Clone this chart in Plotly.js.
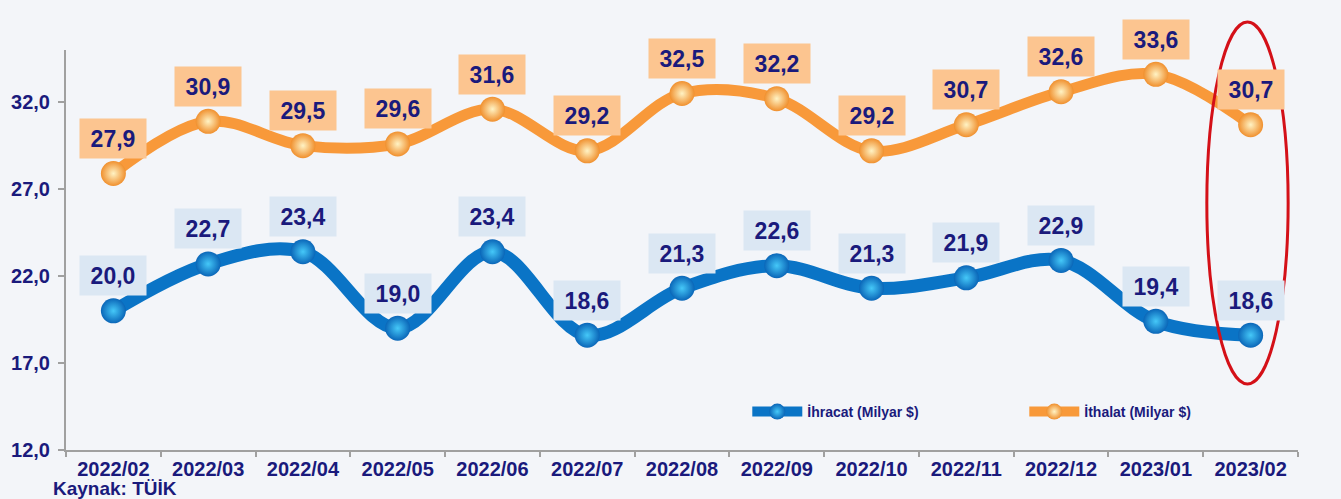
<!DOCTYPE html>
<html>
<head>
<meta charset="utf-8">
<script src="https://cdn.plot.ly/plotly-3.0.1.min.js"></script>
<style>
  html, body { margin: 0; padding: 0; background: #f3f5f9; }
  #chart { width: 1341px; height: 499px; }
</style>
</head>
<body>
<div id="chart"></div>
<script>
const months = ['2022/02','2022/03','2022/04','2022/05','2022/06','2022/07','2022/08','2022/09','2022/10','2022/11','2022/12','2023/01','2023/02'];
const exportsVals = [20.0, 22.7, 23.4, 19.0, 23.4, 18.6, 21.3, 22.6, 21.3, 21.9, 22.9, 19.4, 18.6];
const importsVals = [27.9, 30.9, 29.5, 29.6, 31.6, 29.2, 32.5, 32.2, 29.2, 30.7, 32.6, 33.6, 30.7];
const yTicks = [12, 17, 22, 27, 32];
const exportsName = 'İhracat (Milyar $)';
const importsName = 'İthalat (Milyar $)';
const sourceText = 'Kaynak: TÜİK';

const navy = '#1a1a7c';
const FONT = 'Liberation Sans, Arial, sans-serif';

const traces = [
  {
    type: 'scatter', mode: 'lines+markers', name: exportsName,
    x: months, y: exportsVals,
    line: { color: '#0a74c6', width: 13, shape: 'spline', smoothing: 1 },
    marker: { size: 25, color: '#0a66b8', line: { width: 0 },
              gradient: { type: 'radial', color: '#45c8f8' } }
  },
  {
    type: 'scatter', mode: 'lines+markers', name: importsName,
    x: months, y: importsVals,
    line: { color: '#f8993a', width: 11, shape: 'spline', smoothing: 1 },
    marker: { size: 25, color: '#f0902e', line: { width: 0 },
              gradient: { type: 'radial', color: '#fff3c4' } }
  }
];

const fmt = v => v.toFixed(1).replace('.', ',');
const annotations = [];
function addLabels(vals, bg) {
  vals.forEach((v, i) => {
    annotations.push({
      x: months[i], y: v, xref: 'x', yref: 'y', showarrow: false,
      text: fmt(v), xanchor: 'center', yanchor: 'middle', yshift: 35,
      width: 64, height: 37, bgcolor: bg,
      font: { family: FONT, size: 23, color: navy, weight: 'bold' }
    });
  });
}
addLabels(exportsVals, '#dbe7f3');
addLabels(importsVals, '#fcc590');

annotations.push({
  xref: 'paper', yref: 'paper', x: -0.012, y: -0.097, xanchor: 'left', yanchor: 'middle',
  showarrow: false, text: sourceText,
  font: { family: FONT, size: 19, color: navy, weight: 'bold' }
});

const layout = {
  width: 1341, height: 499,
  paper_bgcolor: '#f3f5f9', plot_bgcolor: 'rgba(0,0,0,0)',
  margin: { l: 66, r: 43, t: 50, b: 49, autoexpand: false },
  separators: ',.',
  showlegend: true,
  legend: {
    orientation: 'h', x: 0.553, y: 0.095, xanchor: 'left', yanchor: 'middle',
    bgcolor: 'rgba(0,0,0,0)', entrywidth: 212, entrywidthmode: 'pixels',
    font: { family: FONT, size: 14, color: navy, weight: 'bold' }, itemwidth: 50
  },
  xaxis: {
    type: 'category', range: [-0.5, 12.5], showgrid: false, zeroline: false,
    showline: true, linecolor: '#a0a0a0', linewidth: 2,
    ticks: 'outside', tickson: 'boundaries', ticklen: 5, tickcolor: '#a0a0a0', tickwidth: 2,
    tickfont: { family: FONT, size: 20, color: navy, weight: 'bold' },
    fixedrange: true
  },
  yaxis: {
    range: [12, 35], tickvals: yTicks, tickformat: '.1f', showgrid: false, zeroline: false,
    showline: true, linecolor: '#a0a0a0', linewidth: 2,
    ticks: 'outside', ticklen: 6, tickcolor: '#a0a0a0', tickwidth: 2, ticklabelstandoff: 4,
    tickfont: { family: FONT, size: 20, color: navy, weight: 'bold' },
    fixedrange: true
  },
  shapes: [{
    type: 'circle', xref: 'paper', yref: 'paper',
    x0: 0.926, x1: 0.992, y0: 0.165, y1: 1.07,
    line: { color: '#d41018', width: 3 }, layer: 'above'
  }],
  annotations: annotations
};

Plotly.newPlot('chart', traces, layout, { displayModeBar: false, staticPlot: true });
</script>
</body>
</html>
